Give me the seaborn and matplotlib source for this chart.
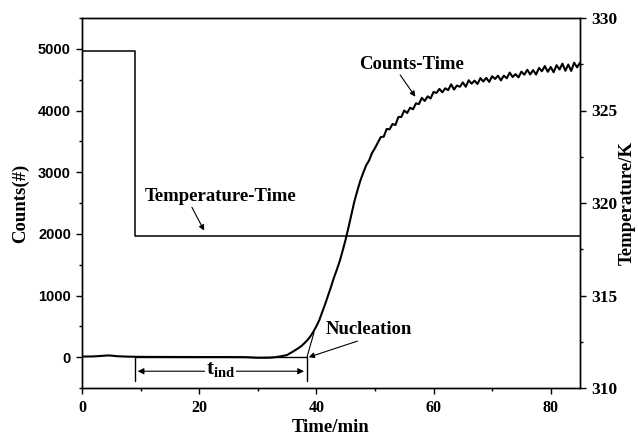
import matplotlib
matplotlib.use("Agg")
import matplotlib.pyplot as plt
import pandas as pd
import numpy as np
import seaborn as sns

# curva de contagens
tempo = [0, 2, 4, 4.5, 5, 6, 8, 10, 15, 20, 25, 28, 30, 32, 33, 34, 35, 36, 37, 37.5,
         38, 38.5, 39, 39.5, 40, 40.5, 41, 41.5, 42, 42.5, 43, 43.5, 44, 44.5, 45, 45.5,
         46, 46.5, 47, 47.5, 48, 48.5, 49, 49.5, 50, 50.5,
         51, 51.5, 52, 52.5, 53, 53.5, 54, 54.5, 55, 55.5, 56, 56.5, 57, 57.5, 58, 58.5,
         59, 59.5, 60, 60.5, 61, 61.5, 62, 62.5, 63, 63.5, 64, 64.5, 65, 65.5, 66, 66.5,
         67, 67.5, 68, 68.5, 69, 69.5, 70, 70.5, 71, 71.5, 72, 72.5, 73, 73.5, 74, 74.5,
         75, 75.5, 76, 76.5, 77, 77.5, 78, 78.5, 79, 79.5, 80, 80.5, 81, 81.5, 82, 82.5,
         83, 83.5, 84, 84.5, 85]
contagens = [10, 12, 25, 28, 25, 15, 8, 5, 3, 2, 2, 0, -10, -8, 0, 15, 35, 90, 150, 185,
             230, 280, 340, 415, 500, 600, 730, 860, 1000, 1140, 1290, 1420, 1560, 1730, 1910, 2110,
             2320, 2530, 2700, 2860, 2990, 3110, 3190, 3310, 3390, 3480,
             3570, 3575, 3700, 3695, 3780, 3765, 3895, 3895, 4000, 3960, 4045, 4020, 4115, 4105, 4205, 4155,
             4230, 4195, 4300, 4285, 4350, 4295, 4360, 4330, 4425, 4340, 4405, 4385, 4455, 4385, 4490, 4435,
             4485, 4430, 4525, 4470, 4530, 4463, 4555, 4512, 4565, 4488, 4565, 4522, 4615, 4543, 4590, 4537,
             4630, 4580, 4660, 4585, 4655, 4583, 4690, 4637, 4720, 4628, 4705, 4620, 4735, 4665, 4760, 4645,
             4745, 4642, 4775, 4700, 4775]

# temperatura em degrau
tempo_temp = [0, 9, 9, 85]
temperatura = [328.2, 328.2, 318.2, 318.2]

df_c = pd.DataFrame({"Tempo": tempo, "Contagens": contagens})
df_t = pd.DataFrame({"Tempo": tempo_temp, "Temperatura": temperatura})

sns.set_style("ticks")
plt.rcParams["font.family"] = ["Liberation Serif", "DejaVu Serif"]
plt.rcParams["font.weight"] = "bold"
plt.rcParams["text.color"] = "black"
plt.rcParams["axes.labelcolor"] = "black"
plt.rcParams["xtick.color"] = "black"
plt.rcParams["ytick.color"] = "black"
plt.rcParams["mathtext.fontset"] = "custom"
plt.rcParams["mathtext.rm"] = "Liberation Serif"
plt.rcParams["mathtext.bf"] = "Liberation Serif:bold"

fig = plt.figure(figsize=(6.38, 4.37), dpi=100)
ax = fig.add_axes([82 / 638, 1 - 388 / 437, (580 - 82) / 638, (388 - 18) / 437])
ax2 = ax.twinx()

sns.lineplot(data=df_c, x="Tempo", y="Contagens", ax=ax, color="black", lw=1.5,
             estimator=None, sort=False)
sns.lineplot(data=df_t, x="Tempo", y="Temperatura", ax=ax2, color="black", lw=1.1,
             estimator=None, sort=False)

ax.set_xlim(0, 85)
ax.set_ylim(-500, 5500)
ax2.set_ylim(310, 330)

ax.set_xticks([0, 20, 40, 60, 80])
ax.set_xticks([10, 30, 50, 70], minor=True)
ax.set_yticks([0, 1000, 2000, 3000, 4000, 5000])
ax.set_yticks([-500, 500, 1500, 2500, 3500, 4500, 5500], minor=True)
ax2.set_yticks([310, 315, 320, 325, 330])
ax2.set_yticks([312.5, 317.5, 322.5, 327.5], minor=True)

for a in (ax, ax2):
    for s in a.spines.values():
        s.set_linewidth(1.0)
        s.set_color("black")
    a.tick_params(which="major", length=4.5, width=1.0, color="black")
    a.tick_params(which="minor", length=2.5, width=1.0, color="black")

ax.tick_params(axis="x", pad=4)
ax.tick_params(axis="y", pad=3.5)
for lab in ax.get_yticklabels():
    lab.set_fontfamily("Liberation Sans")
    lab.set_fontweight("bold")
    lab.set_fontsize(10.5)
for lab in ax.get_xticklabels():
    lab.set_fontweight("bold")
    lab.set_fontsize(11.5)
ax2.tick_params(axis="y", pad=3.5)
for lab in ax2.get_yticklabels():
    lab.set_fontweight("bold")
    lab.set_fontsize(12.5)

ax.set_xlabel("Time/min", fontsize=13.5, fontweight="bold", labelpad=2)
ax.set_ylabel("Counts(#)", fontsize=13.5, fontweight="bold", labelpad=6)
ax2.set_ylabel("Temperature/K", fontsize=13.5, fontweight="bold", labelpad=1)

# marcacoes do tempo de inducao
ax.plot([9.06, 9.06], [0, -380], color="black", lw=1.0)
ax.plot([38.4, 38.4], [0, -380], color="black", lw=1.0)
ax.plot([9.06, 38.4], [0, 0], color="black", lw=1.0)
ax.plot([38.4, 39.6], [0, 400], color="black", lw=0.8)
ax.annotate("", xy=(9.5, -228), xytext=(37.9, -228),
            arrowprops=dict(arrowstyle="<|-|>", color="black", lw=0.8, mutation_scale=9,
                            shrinkA=0, shrinkB=0))
ax.text(23.6, -200, r"$\mathbf{t}_{\mathbf{ind}}$", fontsize=15, ha="center", va="center",
        bbox=dict(facecolor="white", edgecolor="none", pad=0.5))

seta = dict(arrowstyle="-|>", color="black", lw=0.8, mutation_scale=8, shrinkA=0, shrinkB=0)
ax.text(23.65, 2606, "Temperature-Time", fontsize=13.5, fontweight="bold", ha="center", va="center")
ax.annotate("", xy=(20.85, 2052), xytext=(18.75, 2432), arrowprops=seta)
ax.text(56.25, 4740, "Counts-Time", fontsize=13.5, fontweight="bold", ha="center", va="center")
ax.annotate("", xy=(56.9, 4223), xytext=(54.3, 4577), arrowprops=seta)
ax.text(49.0, 456, "Nucleation", fontsize=13.5, fontweight="bold", ha="center", va="center")
ax.annotate("", xy=(38.7, 0), xytext=(47.0, 260), arrowprops=seta)

plt.savefig("out.png", dpi=100)
